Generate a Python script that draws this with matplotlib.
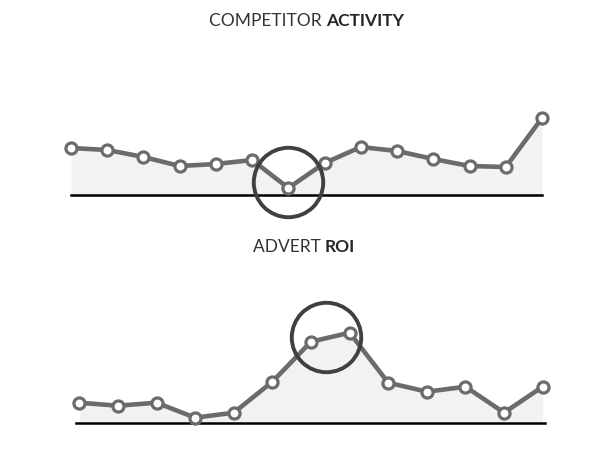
import matplotlib
matplotlib.use("Agg")
import matplotlib.pyplot as plt
import numpy as np

# values (pixel heights above baseline)
competitor_activity = [47, 45, 38, 29, 31, 35, 7, 32, 48, 44, 36, 29, 28, 77]
advert_roi = [20, 17, 20, 5, 10, 41, 81, 90, 40, 31, 36, 10, 36]

W, H = 610, 458
LINE = "#6b6b6b"
FILL = "#f2f2f2"
RING = "#404040"


def px_axes(fig, left, right, base, top):
    return fig.add_axes([left / W, (H - base) / H, (right - left) / W, (base - top) / H])


def draw_series(ax, values, ymax, ring_xy, extend=(0.0, 1.0)):
    x = np.arange(len(values))
    ax.fill_between(x, values, color=FILL, zorder=1, linewidth=0)
    ax.axhline(0, xmin=extend[0], xmax=extend[1], color="black", linewidth=1.8,
               zorder=2, clip_on=False)
    ax.plot(x, values, color=LINE, linewidth=3.3, zorder=3, clip_on=False,
            marker="o", markersize=8, markerfacecolor="white",
            markeredgecolor=LINE, markeredgewidth=2.3)
    ax.plot([ring_xy[0]], [ring_xy[1]], marker="o", markersize=50,
            markerfacecolor="none", markeredgecolor=RING, markeredgewidth=2.8,
            zorder=5, clip_on=False)
    ax.set_xlim(0, len(values) - 1)
    ax.set_ylim(0, ymax)
    ax.axis("off")


def title(fig, split_x, y_px, normal, bold):
    y = 1 - y_px / H
    fig.text(split_x / W, y, normal + " ", ha="right", va="center", fontsize=12.5,
             family="Lato", color="#333333")
    fig.text(split_x / W, y, bold, ha="left", va="center", fontsize=12.5,
             family="Lato", fontweight="bold", color="#262626")


fig = plt.figure(figsize=(W / 100, H / 100), dpi=100)

ax1 = px_axes(fig, 71, 542, 195, 100)
draw_series(ax1, competitor_activity, 95, (6.0, 13))
title(fig, 326, 21, "COMPETITOR", "ACTIVITY")

ax2 = px_axes(fig, 79.3, 542.7, 422.7, 322.7)
draw_series(ax2, advert_roi, 100, (6.4, 86), extend=(-0.007, 1.005))
title(fig, 325, 247, "ADVERT", "ROI")

fig.savefig("out.png", dpi=100)
